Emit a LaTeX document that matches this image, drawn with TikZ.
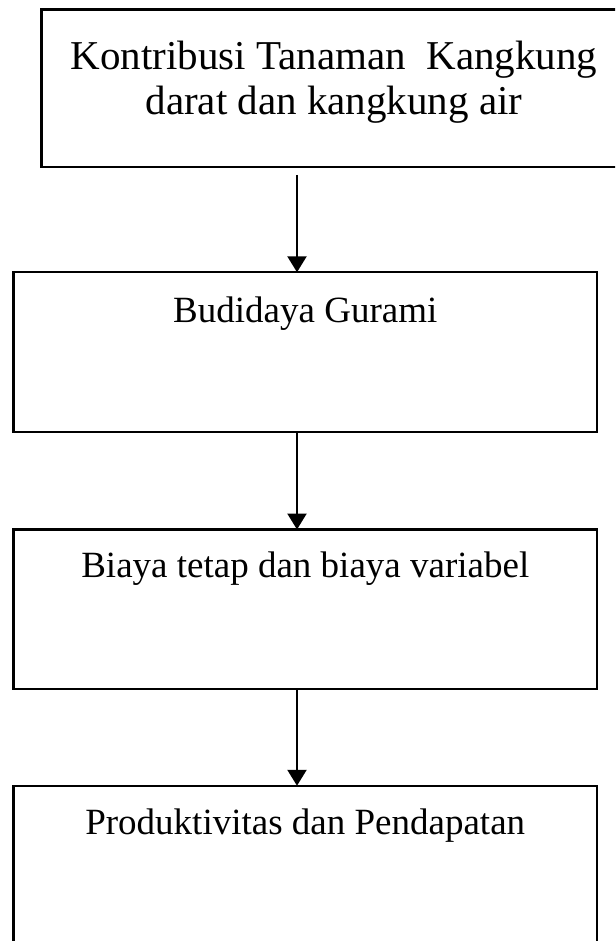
\documentclass[tikz,border=0pt]{standalone}
\usepackage{fontspec}
\setmainfont{Liberation Serif}
\usetikzlibrary{arrows.meta}
\begin{document}
\begin{tikzpicture}[x=1pt,y=-1pt,
  box/.style={draw=black,line width=2.2pt,inner sep=0pt,outer sep=0pt,minimum width=583.5pt,minimum height=159.5pt},
  txt/.style={anchor=base,inner sep=0pt,font=\fontsize{37}{44}\selectfont},
  toptxt/.style={anchor=base,inner sep=0pt,font=\fontsize{41}{45}\selectfont},
  arr/.style={line width=2.4pt,-{Triangle[width=19pt,length=16pt]}}]
\useasboundingbox (0,0) rectangle (615,941);
\clip (0,0) rectangle (615,941);
\node[box,minimum width=585.5pt,minimum height=157.5pt] (b1) at (334.25,88.25) {};
\node[box] (b2) at (305.25,352) {};
\node[box] (b3) at (305.25,609.25) {};
\node[box] (b4) at (305.25,865.5) {};
\node[toptxt] (t1a) at (334,70) {Kontribusi Tanaman~ Kangkung};
\node[toptxt] (t1b) at (334,115) {darat dan kangkung air};
\node[txt] (t2) at (305.25,322) {Budidaya Gurami};
\node[txt] (t3) at (305.25,577) {Biaya tetap dan biaya variabel};
\node[txt] (t4) at (305.25,834) {Produktivitas dan Pendapatan};
\coordinate (ax) at (297,0);
\draw[arr] ([yshift=-8pt]b1.south -| ax) -- (b2.north -| ax);
\draw[arr] (b2.south -| ax) -- (b3.north -| ax);
\draw[arr] (b3.south -| ax) -- (b4.north -| ax);
\end{tikzpicture}
\end{document}
